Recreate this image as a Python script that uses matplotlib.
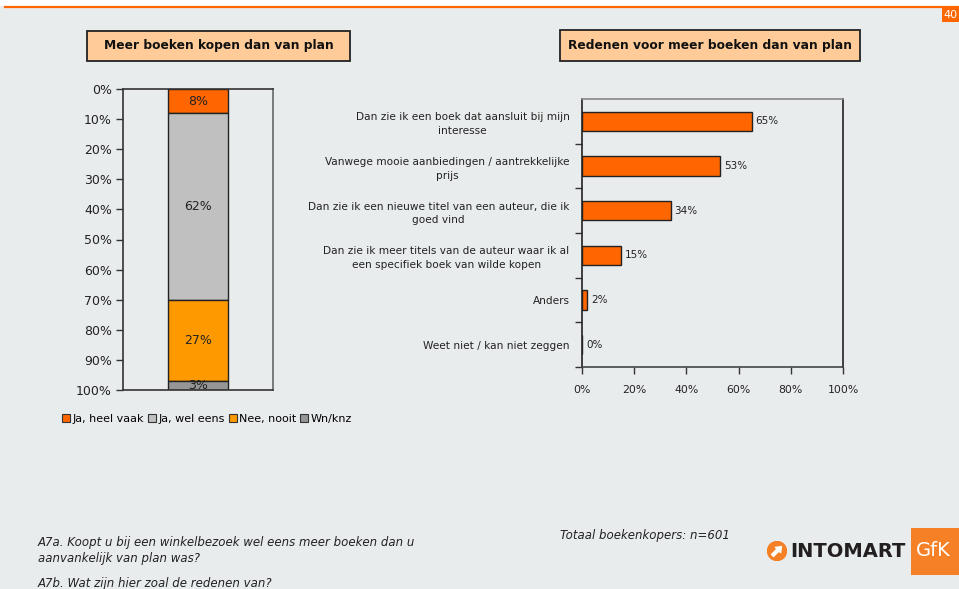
import matplotlib
matplotlib.use("Agg")
import matplotlib.pyplot as plt
from matplotlib.patches import Rectangle, Patch, Circle, Polygon

# ---- data ----
segments = ["Ja, heel vaak", "Ja, wel eens", "Nee, nooit", "Wn/knz"]
segment_values = [8, 62, 27, 3]
segment_colors = ["#FF6600", "#C0C0C0", "#FF9900", "#969696"]

reasons = [
    "Dan zie ik een boek dat aansluit bij mijn\ninteresse",
    "Vanwege mooie aanbiedingen / aantrekkelijke\nprijs",
    "Dan zie ik een nieuwe titel van een auteur, die ik\ngoed vind",
    "Dan zie ik meer titels van de auteur waar ik al\neen specifiek boek van wilde kopen",
    "Anders",
    "Weet niet / kan niet zeggen",
]
reason_values = [65, 53, 34, 15, 2, 0]

left_ticks = [0, 10, 20, 30, 40, 50, 60, 70, 80, 90, 100]
right_ticks = [0, 20, 40, 60, 80, 100]

BG = "#E9ECED"
W, H = 959, 589
fig = plt.figure(figsize=(W / 100, H / 100), dpi=100, facecolor=BG)


def box(x0, y0, x1, y1):
    """pixel box (top-left origin) -> figure fraction rect"""
    return [x0 / W, 1 - y1 / H, (x1 - x0) / W, (y1 - y0) / H]


# header strip and orange rule
fig.patches.append(Rectangle((0, 1 - 6 / H), 1, 6 / H, transform=fig.transFigure,
                             facecolor="white", edgecolor="none", zorder=0))
fig.add_artist(plt.Line2D([5 / W, 1], [1 - 6.5 / H, 1 - 6.5 / H], transform=fig.transFigure,
                          color="#FF6600", lw=1.6))
fig.patches.append(Rectangle((942 / W, 1 - 22 / H), 17 / W, 15 / H, transform=fig.transFigure,
                             facecolor="#FF6600", edgecolor="none"))
fig.text(950 / W, 1 - 14.5 / H, "40", color="white", fontsize=8, ha="center", va="center")

# title boxes
for (x0, y0, x1, y1), title in [((87, 31, 350, 61), "Meer boeken kopen dan van plan"),
                                ((560, 30, 860, 61), "Redenen voor meer boeken dan van plan")]:
    fig.patches.append(Rectangle((x0 / W, 1 - y1 / H), (x1 - x0) / W, (y1 - y0) / H,
                                 transform=fig.transFigure, facecolor="#FFCC99",
                                 edgecolor="#222222", lw=1.3))
    fig.text((x0 + x1) / 2 / W, 1 - (y0 + y1) / 2 / H, title, fontsize=8.8, fontweight="bold",
             ha="center", va="center", color="#111111")

# ---- left: stacked 100% column ----
axL = fig.add_axes(box(123, 89, 273, 390))
axL.set_facecolor(BG)
bottom = 0
for name, val, col in zip(segments, segment_values, segment_colors):
    axL.bar(0.5, val, width=0.4, bottom=bottom, color=col, edgecolor="#222222", lw=1.0,
            label=name)
    axL.text(0.5, bottom + val / 2, f"{val}%", ha="center", va="center", fontsize=9,
             color="#222222")
    bottom += val
axL.set_xlim(0, 1)
axL.set_ylim(100, 0)
axL.set_yticks(left_ticks)
axL.set_yticklabels([f"{t}%" for t in left_ticks], fontsize=9, color="#222222")
axL.set_xticks([])
axL.tick_params(axis="y", length=5, width=1, color="#333333", pad=3)
for s in axL.spines.values():
    s.set_color("#333333")
    s.set_linewidth(1.2)
axL.spines["right"].set_color("#666666")

handles = [Patch(facecolor=c, edgecolor="#333333", lw=0.8) for c in segment_colors]
fig.legend(handles, segments, loc="center left", bbox_to_anchor=(62 / W, 1 - 419 / H),
           ncol=4, frameon=False, fontsize=8, handlelength=0.7, handleheight=0.7,
           handletextpad=0.25, columnspacing=0.35, borderpad=0, borderaxespad=0)

# ---- right: horizontal bars ----
axR = fig.add_axes(box(582, 99, 843, 367))
axR.set_facecolor(BG)
ypos = list(range(len(reasons)))
axR.barh(ypos, reason_values, height=0.44, color="#FF6600", edgecolor="#222222", lw=1.0)
for y, v in zip(ypos, reason_values):
    axR.text(v + 1.5, y, f"{v}%", va="center", ha="left", fontsize=7.5, color="#222222")
axR.set_xlim(0, 100)
axR.set_ylim(len(reasons) - 0.5, -0.5)
axR.set_yticks(ypos)
axR.set_yticklabels(reasons, fontsize=7.6, color="#222222", multialignment="center",
                    linespacing=1.45)
axR.set_yticks([y - 0.5 for y in range(1, len(reasons) + 1)], minor=True)
axR.tick_params(axis="y", which="major", length=0, pad=9)
axR.tick_params(axis="y", which="minor", length=5, width=1, color="#333333")
axR.set_xticks(right_ticks)
axR.set_xticklabels([f"{t}%" for t in right_ticks], fontsize=7.8, color="#222222")
axR.tick_params(axis="x", length=5, width=1, color="#333333", pad=8)
for s in axR.spines.values():
    s.set_linewidth(1.2)
    s.set_color("#222222")
axR.spines["top"].set_color("#888888")
axR.spines["bottom"].set_color("#444444")

# ---- footer ----
fig.text(38 / W, 1 - 536 / H, "A7a. Koopt u bij een winkelbezoek wel eens meer boeken dan u\n"
         "aanvankelijk van plan was?", fontsize=8.5, style="italic", color="#222222",
         va="top", ha="left", linespacing=1.3)
fig.text(38 / W, 1 - 583 / H, "A7b. Wat zijn hier zoal de redenen van?", fontsize=8.5,
         style="italic", color="#222222", va="center", ha="left")
fig.text(560 / W, 1 - 535 / H, "Totaal boekenkopers: n=601", fontsize=8.5, style="italic",
         color="#222222", va="center", ha="left")

# logo
fig.patches.append(Rectangle((911 / W, 1 - 575 / H), 48 / W, 47 / H, transform=fig.transFigure,
                             facecolor="#F58025", edgecolor="none"))
fig.text(933 / W, 1 - 551 / H, "GfK", color="white", fontsize=14, ha="center", va="center")
fig.text(790 / W, 1 - 551.5 / H, "INTOMART", color="#231F20", fontsize=14, fontweight="bold",
         ha="left", va="center")
axLogo = fig.add_axes(box(767, 541, 787, 561))
axLogo.set_xlim(-1, 1)
axLogo.set_ylim(-1, 1)
axLogo.set_aspect("equal")
axLogo.axis("off")
axLogo.add_patch(Circle((0, 0), 0.95, color="#F58025"))
axLogo.add_patch(Polygon([(-0.55, -0.35), (0.05, 0.25), (-0.2, 0.35), (0.45, 0.45),
                          (0.35, -0.2), (0.25, 0.05), (-0.35, -0.55)], closed=True,
                         color="white"))

fig.savefig("out.png", dpi=100, facecolor=BG)
